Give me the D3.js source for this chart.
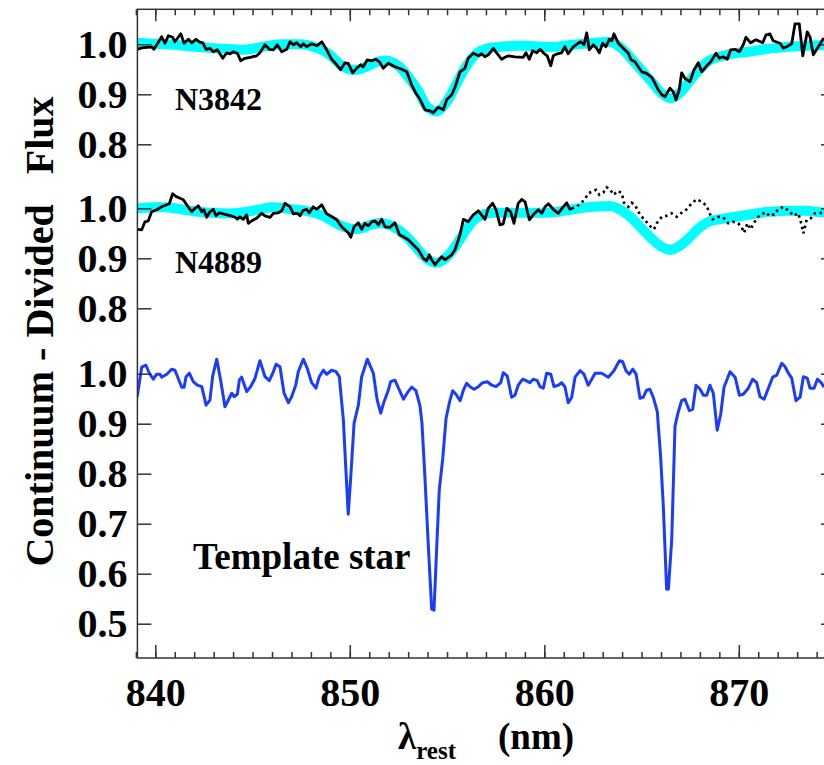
<!DOCTYPE html>
<meta charset="utf-8">
<script src="https://cdn.jsdelivr.net/npm/d3@7"></script>
<style>
  body { margin: 0; background: #fff; }
  text { font-family: "Liberation Serif", "Times New Roman", serif; font-weight: bold; fill: #000; }
</style>
<body>
<svg width="824" height="765"></svg>
<script>

// x ticks (nm)
var xTickMajor = [840, 850, 860, 870];
var xTickMinor = [839, 840, 841, 842, 843, 844, 845, 846, 847, 848, 849, 850, 851, 852, 853, 854, 855, 856, 857, 858,
                  859, 860, 861, 862, 863, 864, 865, 866, 867, 868, 869, 870, 871, 872, 873, 874];

// y ticks for each stacked panel
var yTicksN3842 = [0.8, 0.9, 1.0];
var yTicksN4889 = [0.8, 0.9, 1.0];
var yTicksStar = [0.5, 0.6, 0.7, 0.8, 0.9, 1.0];

var panelNames = ["N3842", "N4889", "Template star"];

// smooth model (broadened template) - cyan band
var modelWave = [839.0, 839.5, 840.0, 840.5, 841.0, 841.5, 842.0, 842.5, 843.0, 843.5,
                 844.0, 844.5, 845.0, 845.5, 846.0, 846.5, 847.0, 847.5, 848.0, 848.5,
                 849.0, 849.5, 850.0, 850.5, 851.0, 851.5, 852.0, 852.5, 853.0, 853.5,
                 854.0, 854.5, 855.0, 855.5, 856.0, 856.5, 857.0, 857.5, 858.0, 858.5,
                 859.0, 859.5, 860.0, 860.5, 861.0, 861.5, 862.0, 862.5, 863.0, 863.5,
                 864.0, 864.5, 865.0, 865.5, 866.0, 866.5, 867.0, 867.5, 868.0, 868.5,
                 869.0, 869.5, 870.0, 870.5, 871.0, 871.5, 872.0, 872.5, 873.0, 873.5,
                 874.0, 874.5, 875.0];
var model3842 = [1.003, 1.002, 1.001, 1.000, 0.999, 0.997, 0.995, 0.994, 0.992, 0.991,
                 0.990, 0.989, 0.991, 0.995, 0.998, 1.000, 1.000, 1.000, 0.997, 0.990,
                 0.978, 0.960, 0.950, 0.950, 0.958, 0.966, 0.967, 0.957, 0.935, 0.908,
                 0.874, 0.866, 0.886, 0.922, 0.957, 0.981, 0.991, 0.994, 0.996, 0.997,
                 0.997, 0.996, 0.995, 0.995, 0.997, 0.999, 1.001, 1.003, 1.004, 1.004,
                 0.991, 0.970, 0.948, 0.926, 0.903, 0.892, 0.904, 0.928, 0.950, 0.968,
                 0.975, 0.980, 0.983, 0.985, 0.988, 0.991, 0.993, 0.995, 0.996, 0.997,
                 0.998, 0.998, 0.998];
var model4889 = [1.000, 1.001, 1.002, 1.002, 1.000, 0.997, 0.994, 0.992, 0.991, 0.990,
                 0.990, 0.992, 0.995, 0.999, 1.002, 1.001, 0.998, 0.996, 0.993, 0.987,
                 0.977, 0.966, 0.960, 0.959, 0.966, 0.970, 0.967, 0.957, 0.940, 0.918,
                 0.898, 0.891, 0.903, 0.928, 0.958, 0.981, 0.989, 0.991, 0.991, 0.991,
                 0.991, 0.991, 0.991, 0.992, 0.995, 0.998, 1.001, 1.003, 1.004, 1.004,
                 0.995, 0.980, 0.960, 0.940, 0.924, 0.917, 0.926, 0.943, 0.962, 0.974,
                 0.978, 0.981, 0.984, 0.987, 0.990, 0.993, 0.994, 0.995, 0.995, 0.995,
                 0.993, 0.991, 0.990];

// observed spectra [wavelength nm, flux]
var obs3842 = [[839.07,0.990],[839.30,0.993],[839.81,0.995],[839.93,0.990],[840.33,1.015],[840.50,1.002],[840.67,1.017],[840.89,1.014],[841.01,1.005],[841.31,1.021],
  [841.48,1.002],[841.70,1.010],[841.87,1.003],[842.09,1.010],[842.26,1.005],[842.44,1.003],[842.61,0.990],[842.81,0.992],[842.98,0.985],[843.19,0.989],
  [843.47,0.972],[843.67,0.983],[843.84,0.981],[844.01,0.985],[844.22,0.982],[844.39,0.967],[844.61,0.972],[844.87,0.974],[845.21,0.977],[845.38,0.983],
  [845.64,0.999],[845.86,0.990],[846.07,0.989],[846.27,0.999],[846.50,0.985],[846.76,0.990],[846.93,1.005],[847.10,0.999],[847.27,1.003],[847.48,0.995],
  [847.61,1.001],[847.78,0.995],[848.04,1.001],[848.30,0.997],[848.56,1.005],[848.81,0.989],[849.07,0.970],[849.33,0.959],[849.53,0.949],[849.75,0.963],
  [849.92,0.962],[850.15,0.943],[850.35,0.952],[850.56,0.959],[850.69,0.955],[850.90,0.969],[851.13,0.967],[851.35,0.970],[851.52,0.965],[851.72,0.952],
  [851.98,0.962],[852.32,0.955],[852.67,0.950],[852.93,0.945],[853.18,0.919],[853.40,0.902],[853.61,0.890],[853.87,0.869],[854.12,0.867],[854.29,0.863],
  [854.55,0.874],[854.81,0.869],[854.98,0.889],[855.24,0.899],[855.41,0.914],[855.67,0.945],[855.92,0.952],[856.09,0.972],[856.35,0.982],[856.61,0.977],
  [856.78,0.981],[856.95,0.975],[857.12,0.979],[857.38,0.992],[857.55,0.983],[857.81,0.970],[857.98,0.974],[858.15,0.977],[858.49,0.975],[858.92,0.974],
  [859.06,0.983],[859.23,0.970],[859.40,0.987],[859.61,0.983],[859.78,0.990],[859.98,0.982],[860.15,0.977],[860.33,0.957],[860.46,0.977],[860.67,0.981],
  [860.89,0.983],[861.06,0.995],[861.23,0.981],[861.49,0.995],[861.70,1.001],[861.87,1.005],[862.04,0.999],[862.18,1.023],[862.31,0.989],[862.52,0.999],
  [862.69,0.992],[862.83,0.983],[863.00,1.002],[863.17,0.995],[863.34,1.010],[863.47,1.007],[863.58,1.021],[863.81,1.002],[864.06,0.992],[864.32,0.982],
  [864.46,0.969],[864.66,0.965],[864.83,0.955],[865.01,0.945],[865.26,0.942],[865.52,0.934],[865.69,0.922],[865.86,0.909],[866.04,0.899],[866.21,0.895],
  [866.29,0.901],[866.46,0.912],[866.63,0.905],[866.77,0.889],[866.94,0.909],[867.06,0.943],[867.23,0.932],[867.49,0.925],[867.70,0.949],[867.92,0.963],
  [868.09,0.945],[868.35,0.957],[868.56,0.965],[868.83,0.982],[869.00,0.972],[869.20,0.975],[869.41,0.970],[869.58,0.989],[869.80,0.990],[870.03,0.985],
  [870.23,0.999],[870.37,1.014],[870.61,1.003],[870.88,1.009],[871.23,1.003],[871.40,1.019],[871.60,1.021],[871.77,1.007],[872.12,1.002],[872.29,0.992],
  [872.46,0.995],[872.72,1.001],[872.89,1.041],[873.11,1.041],[873.29,0.977],[873.52,1.025],[873.66,1.015],[873.83,0.979],[874.09,0.995],[874.31,1.009],
  [874.38,1.012]];

var obs4889 = [[839.07,0.958],[839.30,0.957],[839.47,0.973],[839.64,0.975],[839.81,0.993],[840.07,0.997],[840.33,1.003],[840.59,1.007],[840.72,1.009],[840.89,1.029],
  [841.10,1.023],[841.27,1.020],[841.44,1.017],[841.65,1.005],[841.87,0.993],[842.04,1.000],[842.21,1.005],[842.39,0.993],[842.50,0.997],[842.64,0.982],
  [842.81,0.993],[842.98,0.998],[843.12,0.985],[843.29,0.991],[843.50,0.989],[843.70,0.987],[843.88,0.985],[844.10,0.982],[844.22,0.978],[844.35,0.983],
  [844.52,0.978],[844.70,0.987],[844.78,0.970],[844.96,0.975],[845.21,0.980],[845.47,0.990],[845.64,0.985],[845.90,0.982],[846.07,0.990],[846.32,0.991],
  [846.50,0.995],[846.67,1.010],[846.93,1.003],[847.10,0.989],[847.30,0.990],[847.44,0.985],[847.58,0.995],[847.78,0.998],[847.92,0.991],[848.12,1.003],
  [848.30,0.998],[848.56,1.007],[848.81,0.989],[849.12,0.982],[849.33,0.977],[849.58,0.963],[849.75,0.957],[849.92,0.951],[850.05,0.942],[850.22,0.963],
  [850.44,0.971],[850.61,0.958],[850.78,0.970],[850.95,0.965],[851.13,0.973],[851.30,0.975],[851.47,0.967],[851.64,0.978],[851.81,0.963],[852.07,0.962],
  [852.32,0.971],[852.55,0.947],[852.75,0.943],[853.01,0.937],[853.26,0.927],[853.52,0.917],[853.78,0.900],[853.95,0.895],[854.09,0.907],[854.21,0.897],
  [854.38,0.887],[854.50,0.893],[854.73,0.903],[854.89,0.897],[855.06,0.902],[855.24,0.907],[855.41,0.917],[855.67,0.947],[855.84,0.978],[856.09,0.973],
  [856.35,0.987],[856.61,0.995],[856.95,0.978],[857.12,1.000],[857.35,1.010],[857.52,0.997],[857.72,0.967],[857.89,0.969],[858.07,1.000],[858.27,0.993],
  [858.44,0.970],[858.66,1.010],[858.84,1.018],[859.01,1.013],[859.23,0.977],[859.43,0.987],[859.69,0.997],[859.87,0.990],[860.04,1.003],[860.21,1.009],
  [860.46,0.998],[860.72,0.990],[860.95,1.002],[861.15,1.011],[861.32,0.998],[861.41,1.000]];

// part of N4889 shown dotted (sky-affected region)
var obs4889Dotted = [[861.41,1.000],[861.63,1.002],[861.84,1.009],[862.09,1.018],[862.26,1.030],[862.44,1.033],[862.66,1.037],[862.83,1.027],[863.03,1.031],[863.21,1.042],
  [863.38,1.038],[863.55,1.027],[863.80,1.035],[863.98,1.030],[864.10,1.011],[864.32,1.003],[864.49,1.011],[864.66,1.007],[864.83,0.993],[865.01,0.983],
  [865.18,0.977],[865.35,0.967],[865.52,0.962],[865.64,0.958],[865.78,0.970],[866.04,0.983],[866.29,0.985],[866.55,0.990],[866.81,0.983],[867.06,0.991],
  [867.32,0.998],[867.58,1.010],[867.84,1.018],[868.09,1.013],[868.35,1.005],[868.48,0.991],[868.66,0.978],[868.95,0.983],[869.20,0.982],[869.46,0.970],
  [869.72,0.973],[869.97,0.970],[870.15,0.962],[870.27,0.951],[870.44,0.970],[870.61,0.958],[870.78,0.971],[871.00,0.983],[871.26,0.990],[871.43,0.985],
  [871.60,0.991],[871.81,0.987],[872.03,0.998],[872.29,1.003],[872.46,0.998],[872.63,0.993],[872.80,0.985],[873.06,0.990],[873.23,0.967],[873.32,0.950],
  [873.49,0.977],[873.70,0.980],[873.92,0.990],[874.18,0.991],[874.34,0.990]];

var templateStar = [[839.07,0.954],[839.30,1.013],[839.52,1.017],[839.69,1.001],[839.90,0.989],[840.07,0.999],[840.24,0.999],[840.33,0.993],[840.59,0.999],[840.84,1.009],
  [841.01,1.007],[841.36,0.973],[841.48,0.973],[841.58,0.994],[841.75,1.001],[841.95,0.984],[842.16,0.977],[842.39,0.974],[842.61,0.937],[842.81,0.947],
  [842.95,0.995],[843.16,1.029],[843.36,0.987],[843.58,0.934],[843.75,0.947],[843.93,0.961],[844.05,0.954],[844.22,0.959],[844.32,0.987],[844.44,0.993],
  [844.70,0.964],[844.90,0.974],[845.13,0.991],[845.38,1.026],[845.64,0.994],[845.86,0.986],[846.04,1.001],[846.21,1.019],[846.41,1.014],[846.62,0.961],
  [846.84,0.942],[847.01,0.954],[847.22,0.977],[847.35,1.004],[847.61,1.029],[847.81,1.011],[848.04,0.982],[848.26,0.971],[848.43,0.994],[848.64,1.007],
  [848.81,0.999],[849.07,1.007],[849.29,1.004],[849.46,0.994],[849.67,0.907],[849.80,0.807],[849.92,0.719],[850.05,0.794],[850.22,0.901],[850.44,0.937],
  [850.61,0.994],[850.90,1.029],[851.21,1.001],[851.41,0.947],[851.59,0.921],[851.76,0.944],[851.98,0.967],[852.10,0.984],[852.32,0.987],[852.55,0.967],
  [852.76,0.949],[852.96,0.962],[853.18,0.973],[853.40,0.966],[853.61,0.935],[853.71,0.901],[853.87,0.787],[854.04,0.654],[854.21,0.529],[854.33,0.527],
  [854.47,0.654],[854.60,0.767],[854.78,0.831],[854.95,0.911],[855.12,0.942],[855.29,0.966],[855.46,0.959],[855.67,0.946],[855.84,0.967],[856.01,0.981],
  [856.18,0.974],[856.39,0.969],[856.61,0.974],[856.83,0.982],[857.07,0.984],[857.30,0.977],[857.52,0.974],[857.76,0.982],[857.89,1.002],[858.10,0.995],
  [858.32,0.953],[858.49,0.957],[858.66,0.977],[858.89,0.989],[859.06,0.986],[859.26,0.982],[859.43,0.989],[859.64,0.986],[859.78,0.974],[859.95,0.971],
  [860.12,1.001],[860.33,0.999],[860.50,0.974],[860.72,0.977],[860.89,0.982],[861.06,0.974],[861.23,0.942],[861.41,0.953],[861.58,0.993],[861.84,1.006],
  [862.04,0.999],[862.26,0.977],[862.44,0.989],[862.61,1.001],[862.95,1.001],[863.29,0.993],[863.58,1.006],[863.86,1.026],[864.03,1.024],[864.20,1.006],
  [864.37,0.999],[864.55,1.009],[864.72,0.999],[864.92,0.951],[865.09,0.953],[865.26,0.967],[865.43,0.969],[865.60,0.953],[865.81,0.924],[865.98,0.834],
  [866.12,0.734],[866.29,0.569],[866.38,0.569],[866.55,0.667],[866.72,0.895],[866.89,0.924],[867.06,0.946],[867.23,0.949],[867.46,0.926],[867.63,0.929],
  [867.80,0.977],[868.01,0.969],[868.18,0.957],[868.35,0.957],[868.52,0.977],[868.69,0.961],[868.89,0.887],[869.07,0.919],[869.24,0.973],[869.55,1.004],
  [869.81,0.993],[870.03,0.957],[870.23,0.959],[870.49,0.971],[870.71,0.989],[870.92,0.982],[871.09,0.954],[871.30,0.949],[871.52,0.971],[871.74,0.993],
  [871.95,0.997],[872.21,1.021],[872.38,1.014],[872.55,1.001],[872.72,0.991],[872.94,0.946],[873.15,0.953],[873.32,0.994],[873.52,0.991],[873.66,0.971],
  [873.87,0.971],[874.04,0.989],[874.26,0.981],[874.38,0.973]];

// ---------- layout ----------
var width = 824, height = 765;
var plotLeft = 137.4, plotRight = 835, plotTop = 9.3, plotBottom = 658;
var unitPx = 500; // px per flux unit, same in all panels
var axisClr = "#333";

var svg = d3.select('svg').attr('width', width).attr('height', height);

var x = d3.scaleLinear().domain([840, 870]).range([155.3, 738.8]);

function panelScale(top, ticks) {
    var lo = d3.min(ticks);
    return d3.scaleLinear().domain([lo, 1.0]).range([top + (1 - lo) * unitPx, top]);
}
var panels = [
    {y: panelScale(44.3, yTicksN3842), ticks: yTicksN3842},
    {y: panelScale(208.3, yTicksN4889), ticks: yTicksN4889},
    {y: panelScale(373.7, yTicksStar), ticks: yTicksStar}
];

svg.append('defs').append('clipPath').attr('id', 'plotclip')
    .append('rect')
    .attr('x', plotLeft).attr('y', plotTop)
    .attr('width', plotRight - plotLeft).attr('height', plotBottom - plotTop);

var dataG = svg.append('g').attr('clip-path', 'url(#plotclip)');

function lineFor(yScale, curve) {
    return d3.line()
        .x(function (d) { return x(d[0]); })
        .y(function (d) { return yScale(d[1]); })
        .curve(curve || d3.curveLinear);
}

// cyan model bands
[model3842, model4889].forEach(function (vals, i) {
    dataG.append('path')
        .datum(d3.zip(modelWave, vals))
        .attr('fill', 'none')
        .attr('stroke', '#00ffff')
        .attr('stroke-width', 10)
        .attr('stroke-linejoin', 'round')
        .attr('stroke-linecap', 'round')
        .attr('d', lineFor(panels[i].y, d3.curveCatmullRom));
});

// observed spectra
dataG.append('path').datum(obs3842)
    .attr('fill', 'none').attr('stroke', '#000').attr('stroke-width', 2.8)
    .attr('stroke-linejoin', 'round')
    .attr('d', lineFor(panels[0].y));

dataG.append('path').datum(obs4889)
    .attr('fill', 'none').attr('stroke', '#000').attr('stroke-width', 2.8)
    .attr('stroke-linejoin', 'round')
    .attr('d', lineFor(panels[1].y));

dataG.append('path').datum(obs4889Dotted)
    .attr('fill', 'none').attr('stroke', '#000').attr('stroke-width', 2.6)
    .attr('stroke-dasharray', '2.5,3.5')
    .attr('d', lineFor(panels[1].y));

// template star
dataG.append('path').datum(templateStar)
    .attr('fill', 'none').attr('stroke', '#1a3cff').attr('stroke-width', 3)
    .attr('stroke-linejoin', 'round')
    .attr('d', lineFor(panels[2].y));

// ---------- axes ----------
function styleAxis(g) {
    g.select('.domain').remove();
    g.selectAll('line').attr('stroke', axisClr).attr('stroke-width', 1.5);
    g.selectAll('text').attr('fill', '#000')
        .style('font-family', '"Liberation Serif", "Times New Roman", serif')
        .style('font-weight', 'bold').style('font-size', '40px');
}

// bottom: minor + major
svg.append('g').attr('transform', 'translate(0,' + plotBottom + ')')
    .call(d3.axisBottom(x).tickValues(xTickMinor).tickSizeInner(-6).tickSizeOuter(0).tickFormat(''))
    .call(styleAxis);
svg.append('g').attr('transform', 'translate(0,' + plotBottom + ')')
    .call(d3.axisBottom(x).tickValues(xTickMajor).tickSizeInner(-13).tickSizeOuter(0)
        .tickPadding(19.6).tickFormat(d3.format('d')))
    .call(styleAxis);

// top: minor + major, no labels
svg.append('g').attr('transform', 'translate(0,' + plotTop + ')')
    .call(d3.axisTop(x).tickValues(xTickMinor).tickSizeInner(-6).tickSizeOuter(0).tickFormat(''))
    .call(styleAxis);
svg.append('g').attr('transform', 'translate(0,' + plotTop + ')')
    .call(d3.axisTop(x).tickValues(xTickMajor).tickSizeInner(-12).tickSizeOuter(0).tickFormat(''))
    .call(styleAxis);

// left / right ticks for each panel
panels.forEach(function (p) {
    svg.append('g').attr('transform', 'translate(' + plotLeft + ',0)')
        .call(d3.axisLeft(p.y).tickValues(p.ticks).tickSizeInner(-14).tickSizeOuter(0)
            .tickPadding(10).tickFormat(d3.format('.1f')))
        .call(styleAxis);
    svg.append('g').attr('transform', 'translate(' + plotRight + ',0)')
        .call(d3.axisRight(p.y).tickValues(p.ticks).tickSizeInner(-14).tickSizeOuter(0).tickFormat(''))
        .call(styleAxis);
});

// frame
svg.append('rect')
    .attr('x', plotLeft).attr('y', plotTop)
    .attr('width', plotRight - plotLeft).attr('height', plotBottom - plotTop)
    .attr('fill', 'none').attr('stroke', axisClr).attr('stroke-width', 1.5);

// ---------- labels ----------
svg.append('text').attr('x', 175).attr('y', 110).style('font-size', '32px').text(panelNames[0]);
svg.append('text').attr('x', 175).attr('y', 273).style('font-size', '32px').text(panelNames[1]);
svg.append('text').attr('x', 193).attr('y', 569).style('font-size', '37px').text(panelNames[2]);

// y title
svg.append('text')
    .attr('transform', 'translate(53,331.5) rotate(-90)')
    .attr('text-anchor', 'middle')
    .attr('xml:space', 'preserve')
    .style('white-space', 'pre')
    .style('font-size', '40px')
    .text('Continuum - Divided   Flux');

// x title
var xt = svg.append('text').attr('x', 398).attr('y', 749).style('font-size', '37px');
xt.append('tspan').text('λ');
xt.append('tspan').attr('dy', 10).style('font-size', '25px').text('rest');
xt.append('tspan').attr('x', 498).attr('y', 749).text('(nm)');

</script>
</body>
